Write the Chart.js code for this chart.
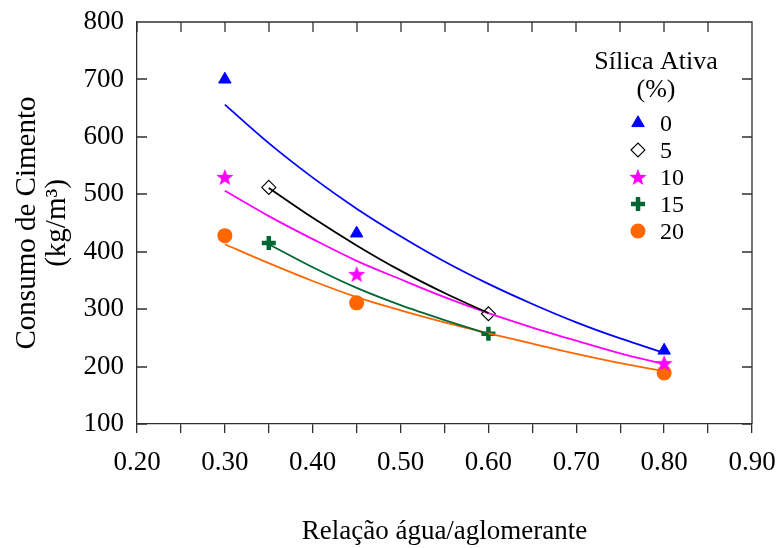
<!DOCTYPE html>
<html>
<head>
<meta charset="utf-8">
<script src="https://cdn.jsdelivr.net/npm/chart.js"></script>
<style>
  html, body { margin: 0; padding: 0; background: #ffffff; }
  canvas { display: block; }
</style>
</head>
<body>
<canvas id="chart" width="779" height="548"></canvas>
<script>
// Cement consumption vs. water/binder ratio, by silica fume content (%)
const silicaLabels = ['0', '5', '10', '15', '20'];

// Measured mixes: water/binder ratio and cement content (kg/m³)
const meas0x = [0.30, 0.45, 0.80];  const meas0y = [700, 432, 228];
const meas5x = [0.35, 0.60];        const meas5y = [512, 292];
const meas10x = [0.30, 0.45, 0.80]; const meas10y = [530, 361, 206];
const meas15x = [0.35, 0.60];       const meas15y = [415, 257];
const meas20x = [0.30, 0.45, 0.80]; const meas20y = [428, 311, 189];

// Trend curves, sampled every 0.05
const trendLongX = [0.30, 0.35, 0.40, 0.45, 0.50, 0.55, 0.60, 0.65, 0.70, 0.75, 0.80];
const trendShortX = [0.35, 0.40, 0.45, 0.50, 0.55, 0.60];
const trend0 = [656, 589, 529, 475, 427, 383, 344, 309, 277, 249, 224];
const trend5 = [511, 459, 411, 367, 328, 293];
const trend10 = [506, 462, 422, 384, 352, 321, 293, 268, 245, 223, 204];
const trend15 = [413, 373, 337, 307, 281, 257];
const trend20 = [413, 380, 349, 321, 298, 277, 258, 240, 222, 206, 192];

// Axis ranges and tick steps
const xMin = 0.20, xMax = 0.90, xStep = 0.05;
const yMin = 100, yMax = 800, yStep = 100;

const SERIF = '"Liberation Serif", "Times New Roman", serif';
const AXIS = '#303030';
const BLUE = '#0000FF', BLACK = '#000000', MAGENTA = '#FF00FF', GREEN = '#006633', ORANGE = '#FF6600';

const toXY = (xs, ys) => xs.map((x, i) => ({ x: x, y: ys[i] }));

// Filled five-pointed star used as a point marker
function makeStar(color, outer, inner) {
  const size = Math.ceil(outer * 2) + 2;
  const cv = document.createElement('canvas');
  cv.width = size; cv.height = size;
  const g = cv.getContext('2d');
  g.fillStyle = color;
  g.beginPath();
  for (let i = 0; i < 10; i++) {
    const r = i % 2 ? inner : outer;
    const a = -Math.PI / 2 + i * Math.PI / 5;
    const px = size / 2 + r * Math.cos(a);
    const py = size / 2 + 0.8 + r * Math.sin(a);
    if (i) g.lineTo(px, py); else g.moveTo(px, py);
  }
  g.closePath();
  g.fill();
  return cv;
}
const starMarker = makeStar(MAGENTA, 9, 3.8);

function trendSet(xs, ys, color) {
  return {
    data: toXY(xs, ys), showLine: true, borderColor: color, borderWidth: 1.8,
    pointRadius: 0, pointHoverRadius: 0, cubicInterpolationMode: 'monotone', fill: false
  };
}

const markerSets = [
  { data: toXY(meas0x, meas0y), pointStyle: 'triangle', pointRadius: 7.2,
    backgroundColor: BLUE, borderColor: BLUE, borderWidth: 1 },
  { data: toXY(meas5x, meas5y), pointStyle: 'rectRot', pointRadius: 7,
    backgroundColor: 'rgba(255,255,255,0)', borderColor: BLACK, borderWidth: 1.1 },
  { data: toXY(meas10x, meas10y), pointStyle: starMarker, pointRadius: 7,
    backgroundColor: MAGENTA, borderColor: MAGENTA, borderWidth: 0 },
  { data: toXY(meas15x, meas15y), pointStyle: 'cross', pointRadius: 7,
    backgroundColor: GREEN, borderColor: GREEN, borderWidth: 4.5 },
  { data: toXY(meas20x, meas20y), pointStyle: 'circle', pointRadius: 7.5,
    backgroundColor: ORANGE, borderColor: ORANGE, borderWidth: 0 }
];
markerSets.forEach(s => { s.showLine = false; s.pointHoverRadius = s.pointRadius; });

// Closed frame with inward tick marks on the left, top and right sides
const framePlugin = {
  id: 'frame',
  beforeDatasetsDraw(chart) {
    const { ctx, chartArea: { left, right, top, bottom }, scales: { x, y } } = chart;
    ctx.save();
    ctx.strokeStyle = AXIS;
    ctx.lineWidth = 1.3;
    ctx.beginPath();
    ctx.moveTo(left, top); ctx.lineTo(right, top); ctx.lineTo(right, bottom);
    x.ticks.forEach(t => {
      const px = Math.round(x.getPixelForValue(t.value));
      ctx.moveTo(px, top); ctx.lineTo(px, top + 10);
    });
    y.ticks.forEach(t => {
      const py = Math.round(y.getPixelForValue(t.value));
      ctx.moveTo(left, py); ctx.lineTo(left + 10, py);
      ctx.moveTo(right, py); ctx.lineTo(right - 10, py);
    });
    ctx.stroke();
    ctx.restore();
  }
};

// Legend block inside the plot: title plus one marker per silica fume content
const legendPlugin = {
  id: 'silicaLegend',
  afterDatasetsDraw(chart) {
    const { ctx } = chart;
    const cx = 656, markerX = 638, labelX = 660, firstY = 123, rowGap = 27;
    ctx.save();
    ctx.fillStyle = '#000';
    ctx.textAlign = 'center';
    ctx.textBaseline = 'alphabetic';
    ctx.font = '26px ' + SERIF;
    ctx.fillText('Sílica Ativa', cx, 69);
    ctx.fillText('(%)', cx, 97);
    ctx.font = '24px ' + SERIF;
    ctx.textAlign = 'left';
    markerSets.forEach((s, i) => {
      const yy = firstY + i * rowGap;
      ctx.save();
      ctx.fillStyle = s.backgroundColor;
      ctx.strokeStyle = s.borderColor;
      ctx.lineWidth = s.borderWidth;
      Chart.helpers.drawPoint(ctx, {
        pointStyle: s.pointStyle, radius: s.pointRadius, rotation: 0, borderWidth: s.borderWidth
      }, markerX, yy);
      ctx.restore();
      ctx.fillText(silicaLabels[i], labelX, yy + 8);
    });
    ctx.restore();
  }
};

new Chart(document.getElementById('chart'), {
  type: 'scatter',
  data: {
    datasets: [
      trendSet(trendLongX, trend0, BLUE),
      trendSet(trendShortX, trend5, BLACK),
      trendSet(trendLongX, trend10, MAGENTA),
      trendSet(trendShortX, trend15, GREEN),
      trendSet(trendLongX, trend20, ORANGE)
    ].concat(markerSets)
  },
  options: {
    responsive: false,
    animation: false,
    events: [],
    layout: { padding: { left: 0, top: 22, right: 27, bottom: 0 } },
    plugins: { legend: { display: false }, tooltip: { enabled: false } },
    scales: {
      x: {
        type: 'linear', min: xMin, max: xMax,
        afterFit: s => { s.height = 124; s.paddingLeft = 0; s.paddingRight = 0; },
        border: { display: true, color: AXIS, width: 1.3 },
        grid: { display: true, drawOnChartArea: false, drawTicks: true, tickLength: 9, color: AXIS, lineWidth: 1.3 },
        ticks: {
          stepSize: xStep, autoSkip: false, maxRotation: 0, padding: 14, color: '#000',
          font: { family: SERIF, size: 27 },
          callback: v => (Math.round(v * 100) % 10 === 0 ? v.toFixed(2) : '')
        },
        title: {
          display: true, text: 'Relação água/aglomerante', color: '#000',
          font: { family: SERIF, size: 27, lineHeight: 1.2 }, padding: { top: 0, bottom: 0 }
        }
      },
      y: {
        type: 'linear', min: yMin, max: yMax,
        afterFit: s => { s.width = 137; s.paddingTop = 0; s.paddingBottom = 0; },
        border: { display: true, color: AXIS, width: 1.3 },
        grid: { display: false, drawTicks: false },
        ticks: {
          stepSize: yStep, padding: 13, color: '#000',
          font: { family: SERIF, size: 27 }
        },
        title: {
          display: true, text: ['Consumo de Cimento', '(kg/m³)'], color: '#000',
          font: { family: SERIF, size: 29, lineHeight: 1.04 }, padding: { top: 12, bottom: 0 }
        }
      }
    }
  },
  plugins: [framePlugin, legendPlugin]
});
</script>
</body>
</html>
